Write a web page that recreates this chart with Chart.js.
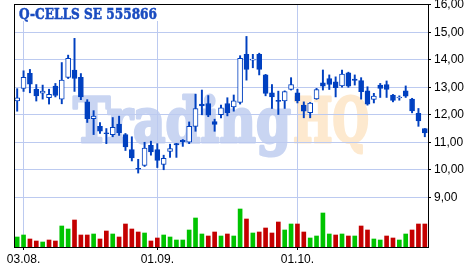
<!DOCTYPE html>
<html><head><meta charset="utf-8">
<script src="https://cdn.jsdelivr.net/npm/chart.js@4/dist/chart.umd.min.js"></script>
<style>html,body{margin:0;padding:0;background:#fff;}canvas{display:block;}</style>
</head><body>
<canvas id="c" width="468" height="263"></canvas>
<script>
// ---- data ----
const dates = ['31.07.',
 '03.08.','04.08.','05.08.','06.08.','07.08.',
 '10.08.','11.08.','12.08.','13.08.','14.08.',
 '17.08.','18.08.','19.08.','20.08.','21.08.',
 '24.08.','25.08.','26.08.','27.08.','28.08.',
 '31.08.','01.09.','02.09.','03.09.','04.09.',
 '07.09.','08.09.','09.09.','10.09.','11.09.',
 '14.09.','15.09.','16.09.','17.09.','18.09.',
 '21.09.','22.09.','23.09.','24.09.','25.09.',
 '28.09.','29.09.','30.09.','01.10.','02.10.',
 '05.10.','06.10.','07.10.','08.10.','09.10.',
 '12.10.','13.10.','14.10.','15.10.','16.10.',
 '19.10.','20.10.','21.10.','22.10.','23.10.',
 '26.10.','27.10.','28.10.','29.10.'];
const openP = [12.50,
 12.96,13.51,12.93,12.79,12.62, 13.04,12.57,13.36,13.63,13.36,
 12.47,11.86,11.58,11.34,11.28, 11.66,11.28,10.73,10.05,10.16,
 10.89,10.73,10.19,10.67,10.95, 11.07,11.00,11.58,12.39,12.41,
 11.75,12.00,12.41,12.29,12.45, 14.20,13.99,14.20,13.45,12.80,
 12.51,12.50,12.92,12.80,12.35, 12.08,12.58,13.16,13.32,13.20,
 13.05,13.53,13.30,13.24,12.87, 12.56,13.08,13.10,12.72,12.61,
 12.87,12.57,12.05,11.50];
const highP = [12.95,
 13.60,13.65,13.10,13.08,12.93, 13.14,13.90,14.17,14.78,13.50,
 12.55,12.15,11.72,11.50,11.90, 11.95,11.32,11.20,10.38,11.00,
 11.04,10.95,10.53,10.93,10.96, 11.10,11.74,12.75,12.90,12.70,
 11.84,12.35,12.62,12.72,14.15, 14.85,14.20,14.24,13.47,13.10,
 12.86,12.87,13.35,12.93,12.47, 12.45,12.96,13.63,13.45,13.38,
 13.63,13.55,13.45,13.35,13.02, 12.78,13.14,13.23,12.74,12.69,
 13.05,12.60,12.23,11.50];
const lowP = [12.13,
 12.85,12.80,12.50,12.57,12.39, 12.65,12.40,13.32,12.85,12.55,
 11.72,11.28,11.32,10.95,11.20, 11.25,10.70,10.32,9.88,10.12,
 10.53,10.08,10.00,10.45,10.45, 10.85,10.95,11.40,12.00,11.93,
 11.40,11.89,11.96,12.13,12.39, 13.26,13.71,13.45,12.69,12.23,
 12.01,12.23,12.90,12.43,11.89, 11.89,12.56,12.90,12.92,12.65,
 13.00,13.00,13.08,12.57,12.35, 12.43,12.63,12.63,12.47,12.53,
 12.63,12.07,11.58,11.20];
const closeP = [12.62,
 13.36,13.11,12.69,12.86,12.74, 12.70,13.26,14.05,13.32,12.65,
 11.86,11.95,11.40,11.31,11.54, 11.35,10.83,10.43,10.02,10.79,
 10.65,10.34,10.42,10.77,10.90, 11.02,11.58,12.23,12.32,11.99,
 11.65,12.25,12.08,12.51,14.05, 13.65,14.00,13.65,12.78,12.65,
 12.49,12.84,13.10,12.51,12.13, 12.43,12.92,13.04,13.10,12.99,
 13.48,13.04,13.25,12.84,12.39, 12.68,12.96,12.92,12.52,12.63,
 12.68,12.14,11.78,11.34];
// volume (thousand shares, estimated)
const volume = [500,
 600,400,300,250,350, 300,1050,900,1350,600,
 600,650,400,800,650, 500,1150,900,750,700,
 300,450,600,500,350, 350,850,1450,650,550,
 750,550,650,550,1900, 1400,700,750,950,700,
 1250,850,1150,1150,750, 450,550,1700,650,600,
 650,550,550,1050,850, 400,350,550,450,350,
 650,850,1150,1150];
const priceTicks = [9,10,11,12,13,14,15,16];
const dateTicks = ['03.08.','01.09.','01.10.'];
const titleText = 'Q-CELLS SE 555866';

// ---- styles ----
const BLUE = '#0040c0';
const GRID = '#bccaf0';
const UP_VOL = '#00c400';
const DN_VOL = '#c40000';

const volColors = closeP.map((c,i) => {
  const ref = i === 0 ? openP[0] : closeP[i-1];
  return c >= ref ? UP_VOL : DN_VOL;
});

const decor = {
  id: 'decor',
  beforeDraw(chart) {
    const {ctx, chartArea: a} = chart;
    ctx.save();
    ctx.fillStyle = '#fff';
    ctx.fillRect(0, 0, chart.width, chart.height);
    ctx.beginPath(); ctx.rect(a.left, a.top, a.right - a.left, a.bottom - a.top); ctx.clip();
    ctx.font = 'bold 62px "DejaVu Serif"';
    ctx.textBaseline = 'alphabetic';
    ctx.lineJoin = 'round';
    const w1 = ctx.measureText('Trading').width;
    const w2 = ctx.measureText('HQ').width;
    ctx.save();
    ctx.translate(73, 142); ctx.scale(218 / w1, 1);
    ctx.fillStyle = '#c9d5f2'; ctx.strokeStyle = '#c9d5f2'; ctx.lineWidth = 3;
    ctx.fillText('Trading', 0, 0);
    ctx.strokeText('Trading', 0, 0);
    ctx.restore();
    ctx.save();
    ctx.translate(293, 142); ctx.scale(76 / w2, 1);
    ctx.fillStyle = '#fde9cf'; ctx.strokeStyle = '#fde9cf'; ctx.lineWidth = 3;
    ctx.fillText('HQ', 0, 0);
    ctx.strokeText('HQ', 0, 0);
    ctx.restore();
    ctx.restore();
  },
  afterDraw(chart) {
    const {ctx, chartArea: a} = chart;
    ctx.save();
    ctx.fillStyle = '#fff';
    ctx.fillRect(a.left + 1, a.top + 1, 146, 16);
    ctx.font = 'bold 14px "DejaVu Serif"';
    ctx.textBaseline = 'alphabetic';
    const w = ctx.measureText(titleText).width;
    ctx.translate(19, 18.5); ctx.scale(138 / w, 1);
    ctx.fillStyle = '#1a4cc0'; ctx.strokeStyle = '#1a4cc0'; ctx.lineWidth = 0.5;
    ctx.fillText(titleText, 0, 0);
    ctx.strokeText(titleText, 0, 0);
    ctx.restore();
    ctx.save();
    ctx.strokeStyle = '#000'; ctx.lineWidth = 1;
    ctx.strokeRect(a.left + 0.5, a.top + 0.5, a.right - a.left, a.bottom - a.top);
    ctx.restore();
  }
};

new Chart(document.getElementById('c'), {
  type: 'bar',
  data: {
    labels: dates,
    datasets: [
      {
        label: 'body',
        data: dates.map((d,i) => [openP[i], closeP[i]]),
        yAxisID: 'y',
        backgroundColor: closeP.map((c,i) => c > openP[i] ? '#ffffff' : BLUE),
        borderColor: BLUE,
        borderWidth: 1,
        borderSkipped: false,
        barThickness: 5,
        minBarLength: 1,
        grouped: false,
        order: 0
      },
      {
        label: 'wick',
        data: dates.map((d,i) => [lowP[i], highP[i]]),
        yAxisID: 'y',
        backgroundColor: BLUE,
        borderWidth: 0,
        barThickness: 1.3,
        grouped: false,
        order: 1
      },
      {
        label: 'volume',
        data: volume,
        yAxisID: 'y2',
        backgroundColor: volColors,
        borderWidth: 0,
        barThickness: 4,
        grouped: false,
        order: 2
      }
    ]
  },
  options: {
    responsive: false,
    animation: false,
    devicePixelRatio: 1,
    layout: { padding: { left: 14, top: 4, right: 0, bottom: 0 } },
    plugins: { legend: { display: false }, tooltip: { enabled: false }, title: { display: false } },
    scales: {
      x: {
        type: 'category',
        offset: true,
        border: { display: false },
        grid: {
          offset: false,
          drawTicks: true,
          tickLength: 3,
          color: c => dateTicks.includes(dates[c.index]) ? GRID : 'rgba(0,0,0,0)',
          tickColor: c => dateTicks.includes(dates[c.index]) ? '#000' : 'rgba(0,0,0,0)'
        },
        ticks: {
          autoSkip: false, maxRotation: 0, minRotation: 0, padding: 2,
          color: '#000',
          font: { family: '"Liberation Sans", Arial, sans-serif', size: 12 },
          callback: (v, i) => dateTicks.includes(dates[i]) ? dates[i] : ''
        },
        afterFit: s => { s.height = 16; s.paddingLeft = 0; s.paddingRight = 0; }
      },
      y: {
        type: 'linear',
        position: 'right',
        min: 7.19,
        max: 16.03,
        border: { display: false },
        grid: { color: GRID, tickColor: '#000', tickLength: 3 },
        afterBuildTicks: s => { s.ticks = priceTicks.map(v => ({ value: v })); },
        ticks: {
          padding: 3,
          color: '#000',
          font: { family: '"Liberation Sans", Arial, sans-serif', size: 12 },
          callback: v => Number(v).toFixed(2).replace('.', ',')
        },
        afterFit: s => { s.width = 40; s.paddingTop = 0; s.paddingBottom = 0; }
      },
      y2: { type: 'linear', display: false, min: 0, max: 12150 }
    }
  },
  plugins: [decor]
});
</script>
</body></html>
